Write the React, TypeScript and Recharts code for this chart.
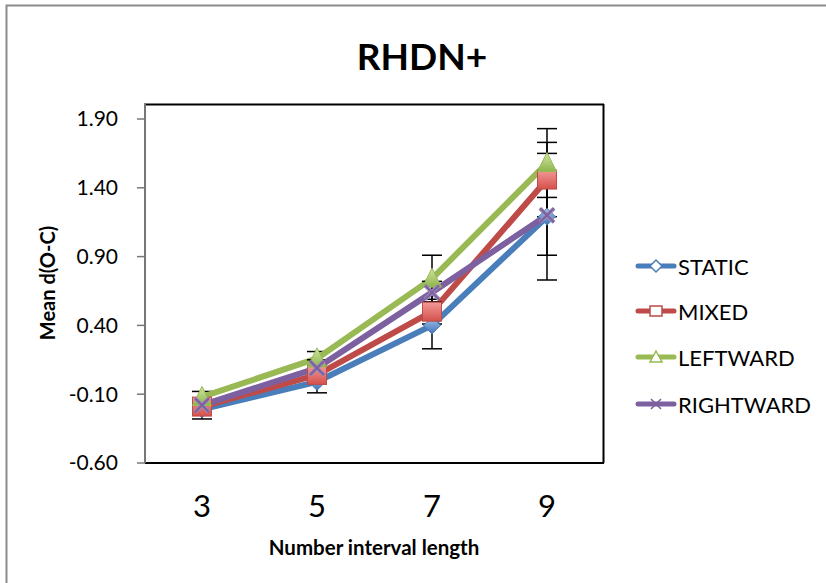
import React from 'react';
import { LineChart, Line, XAxis, YAxis, ErrorBar } from 'recharts';

const categories = ['3', '5', '7', '9'];
const staticVals = [-0.21, -0.01, 0.40, 1.19];
const mixedVals = [-0.19, 0.04, 0.50, 1.46];
const leftwardVals = [-0.12, 0.16, 0.74, 1.58];
const rightwardVals = [-0.18, 0.09, 0.64, 1.20];
const staticErr = [0.07, 0.08, 0.17, 0.46];
const mixedErr = [0.05, 0.06, 0.09, 0.27];
const leftwardErr = [0.04, 0.05, 0.17, 0.25];
const rightwardErr = [0.05, 0.06, 0.08, 0.29];
const yTicks = [-0.6, -0.1, 0.4, 0.9, 1.4, 1.9];
const seriesNames = ['STATIC', 'MIXED', 'LEFTWARD', 'RIGHTWARD'];

const data = categories.map((c, i) => ({
  cat: c,
  s: staticVals[i], sErr: staticErr[i],
  m: mixedVals[i], mErr: mixedErr[i],
  l: leftwardVals[i], lErr: leftwardErr[i],
  r: rightwardVals[i], rErr: rightwardErr[i],
}));

const FONT = 'Lato, "Open Sans", sans-serif';
const colors = ['#4A7EBB', '#BE4B48', '#98B954', '#7D60A0'];

const Diamond = (p: any) => {
  const { cx, cy, index } = p;
  if (cx == null || cy == null) return <g key={`sd-${index}`} />;
  const s = 8.5;
  return (
    <path key={`sd-${index}`} d={`M${cx},${cy - s} L${cx + s},${cy} L${cx},${cy + s} L${cx - s},${cy} Z`}
      fill="url(#gBlue)" stroke="#4A7EBB" strokeWidth={1} />
  );
};
const Square = (p: any) => {
  const { cx, cy, index } = p;
  if (cx == null || cy == null) return <g key={`sm-${index}`} />;
  const s = 9.5;
  return <rect key={`sm-${index}`} x={cx - s} y={cy - s} width={2 * s} height={2 * s} fill="url(#gRed)" stroke="#BE4B48" strokeWidth={1} />;
};
const Triangle = (p: any) => {
  const { cx, cy, index } = p;
  if (cx == null || cy == null) return <g key={`sl-${index}`} />;
  const s = 9.5;
  return (
    <path key={`sl-${index}`} d={`M${cx},${cy - s - 1} L${cx + s},${cy + s - 1} L${cx - s},${cy + s - 1} Z`}
      fill="url(#gGreen)" stroke="#98B954" strokeWidth={1} strokeLinejoin="round" />
  );
};
const Cross = (p: any) => {
  const { cx, cy, index } = p;
  if (cx == null || cy == null) return <g key={`sr-${index}`} />;
  const s = 7;
  return (
    <g key={`sr-${index}`}>
      <path d={`M${cx - s},${cy - s} L${cx + s},${cy + s} M${cx + s},${cy - s} L${cx - s},${cy + s}`} stroke="#9c8ab8" strokeWidth={4} />
      <path d={`M${cx - s},${cy - s} L${cx + s},${cy + s} M${cx + s},${cy - s} L${cx - s},${cy + s}`} stroke="#7D60A0" strokeWidth={2} />
    </g>
  );
};

const legendY = [266, 311, 357, 404];

const LegendIcon = ({ i, y }: { i: number; y: number }) => {
  const cx = 656;
  const c = colors[i];
  let m: React.ReactNode = null;
  if (i === 0) m = <path d={`M${cx},${y - 6} L${cx + 6},${y} L${cx},${y + 6} L${cx - 6},${y} Z`} fill="#fff" stroke={c} strokeWidth={1.5} />;
  if (i === 1) m = <rect x={cx - 6} y={y - 5} width={12} height={10} fill="#fff" stroke={c} strokeWidth={1.5} />;
  if (i === 2) m = <path d={`M${cx},${y - 6} L${cx + 6},${y + 5} L${cx - 6},${y + 5} Z`} fill="#fff" stroke={c} strokeWidth={1.5} />;
  if (i === 3) m = <path d={`M${cx - 5},${y - 5} L${cx + 5},${y + 5} M${cx + 5},${y - 5} L${cx - 5},${y + 5}`} stroke={c} strokeWidth={1.5} />;
  return (
    <g>
      <line x1={638} y1={y} x2={674} y2={y} stroke={c} strokeWidth={5} strokeLinecap="round" />
      {m}
    </g>
  );
};

export default function App() {
  return (
    <div style={{ position: 'absolute', left: 0, top: 0, width: 826, height: 583, overflow: 'hidden', background: '#fff' }}>
      <svg width={826} height={583} style={{ position: 'absolute', left: 0, top: 0 }}>
        <defs>
          <linearGradient id="gBlue" x1="0" y1="0" x2="0" y2="1">
            <stop offset="0" stopColor="#a9c4ea" />
            <stop offset="1" stopColor="#3f74b8" />
          </linearGradient>
          <linearGradient id="gRed" x1="0" y1="0" x2="0" y2="1">
            <stop offset="0" stopColor="#f29a97" />
            <stop offset="1" stopColor="#d4504c" />
          </linearGradient>
          <linearGradient id="gGreen" x1="0" y1="0" x2="0" y2="1">
            <stop offset="0" stopColor="#cfe6a0" />
            <stop offset="1" stopColor="#8fb44c" />
          </linearGradient>
        </defs>
        <rect x={6.5} y={5.5} width={900} height={700} fill="none" stroke="#8c8c8c" strokeWidth={2} />
        <line x1={144} y1={104.5} x2={604} y2={104.5} stroke="#000" strokeWidth={2} />
        <line x1={603.5} y1={104} x2={603.5} y2={463} stroke="#000" strokeWidth={2} />
        <line x1={145} y1={104} x2={145} y2={463} stroke="#777" strokeWidth={2} />
      </svg>
      <div style={{ position: 'absolute', left: 0, top: 0 }}>
        <LineChart width={826} height={583} data={data} margin={{ top: 119, right: 222, bottom: 60, left: 85 }}>
          <XAxis dataKey="cat" type="category" padding={{ left: 57, right: 57 }} axisLine={{ stroke: '#000', strokeWidth: 2 }}
            tickLine={false} tickSize={0} tickMargin={32} height={60}
            tick={{ fill: '#000', fontSize: 31, fontFamily: FONT }} interval={0} />
          <YAxis type="number" domain={[-0.6, 1.9]} ticks={yTicks} allowDataOverflow width={60}
            axisLine={{ stroke: '#777', strokeWidth: 2 }} tickLine={{ stroke: '#777', strokeWidth: 1.5 }} tickSize={8} tickMargin={19}
            tickFormatter={(v: number) => v.toFixed(2)} tick={{ fill: '#000', fontSize: 21, fontFamily: FONT }} />
          <Line dataKey="s" name={seriesNames[0]} stroke={colors[0]} strokeWidth={6} strokeLinecap="round" strokeLinejoin="round" dot={Diamond} activeDot={false} isAnimationActive={false}>
            <ErrorBar dataKey="sErr" width={10} stroke="#000" strokeWidth={1.5} direction="y" />
          </Line>
          <Line dataKey="m" name={seriesNames[1]} stroke={colors[1]} strokeWidth={6} strokeLinecap="round" strokeLinejoin="round" dot={Square} activeDot={false} isAnimationActive={false}>
            <ErrorBar dataKey="mErr" width={10} stroke="#000" strokeWidth={1.5} direction="y" />
          </Line>
          <Line dataKey="l" name={seriesNames[2]} stroke={colors[2]} strokeWidth={6} strokeLinecap="round" strokeLinejoin="round" dot={Triangle} activeDot={false} isAnimationActive={false}>
            <ErrorBar dataKey="lErr" width={10} stroke="#000" strokeWidth={1.5} direction="y" />
          </Line>
          <Line dataKey="r" name={seriesNames[3]} stroke={colors[3]} strokeWidth={6} strokeLinecap="round" strokeLinejoin="round" dot={Cross} activeDot={false} isAnimationActive={false}>
            <ErrorBar dataKey="rErr" width={10} stroke="#000" strokeWidth={1.5} direction="y" />
          </Line>
        </LineChart>
      </div>
      <svg width={826} height={583} style={{ position: 'absolute', left: 0, top: 0, pointerEvents: 'none' }}>
        <text x={422} y={55} textAnchor="middle" dominantBaseline="central" fontFamily={FONT} fontWeight="bold" fontSize={37} fill="#000">RHDN+</text>
        <text x={47} y={283} textAnchor="middle" dominantBaseline="central" fontFamily={FONT} fontWeight="bold" fontSize={20} fill="#000" transform="rotate(-90 47 283)">Mean d(O-C)</text>
        <text x={374} y={547} textAnchor="middle" dominantBaseline="central" fontFamily={FONT} fontWeight="bold" fontSize={20.5} fill="#000">Number interval length</text>
        {seriesNames.map((n, i) => (
          <g key={n}>
            <LegendIcon i={i} y={legendY[i]} />
            <text x={678} y={legendY[i]} dominantBaseline="central" fontFamily={FONT} fontSize={22} fill="#000">{n}</text>
          </g>
        ))}
      </svg>
    </div>
  );
}
